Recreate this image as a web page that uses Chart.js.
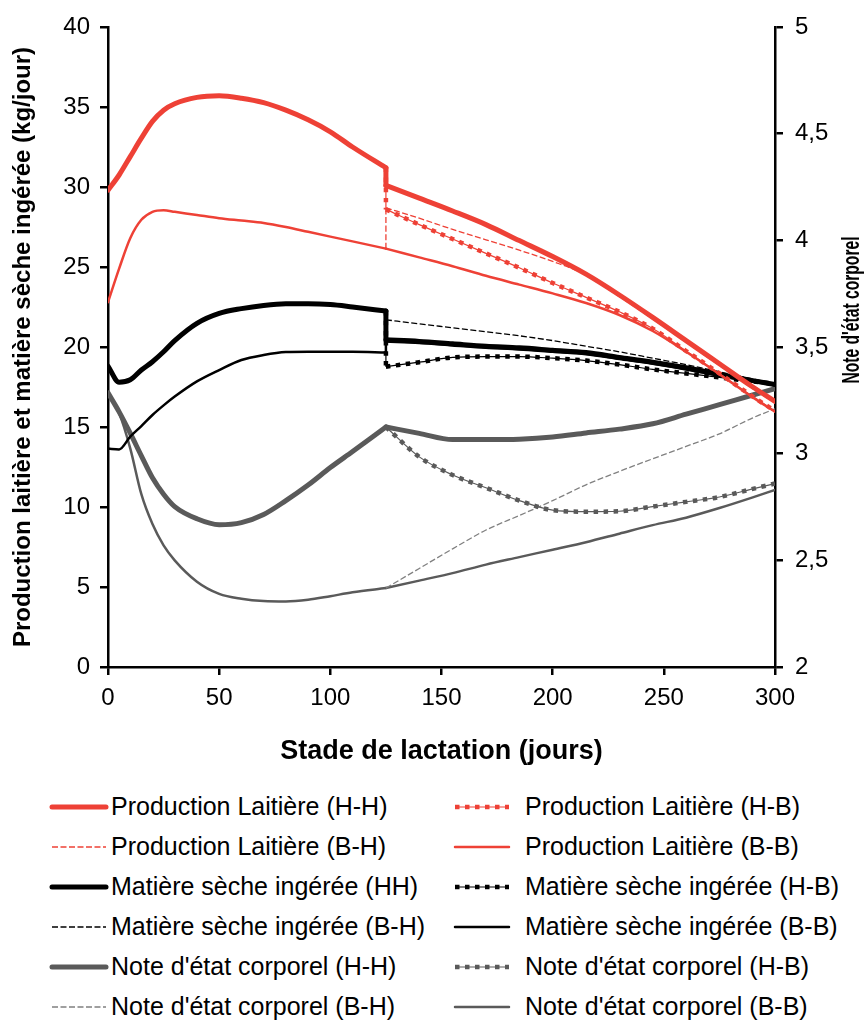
<!DOCTYPE html>
<html lang="fr">
<head>
<meta charset="utf-8">
<script src="https://cdn.jsdelivr.net/npm/chart.js@4.4.1/dist/chart.umd.min.js"></script>
<style>
  html, body { margin: 0; padding: 0; background: #fff; }
  body { width: 868px; height: 1020px; position: relative; overflow: hidden;
         font-family: "Liberation Sans", Arial, sans-serif; }
  #chart { position: absolute; left: 0; top: 0; }
  .sw { position: absolute; }
  .lt { position: absolute; font-size: 25px; line-height: 30px; color: #000; white-space: nowrap; }
</style>
</head>
<body>
<canvas id="chart" width="868" height="780"></canvas>
<div id="legend"></div>
<script>
// ---------------------------------------------------------------
// DATA
// ---------------------------------------------------------------

// days of lactation, before and after the switch at day 125
const daysP1 = [0, 5, 10, 15, 20, 25, 30, 40, 50, 60, 70, 80, 90, 100, 110, 125];
const daysP2 = [125, 140, 155, 170, 185, 200, 215, 230, 245, 260, 275, 290, 300];
const switchDay = 125;

// Production laitière (kg/jour)
const laitHH1 = [29.8, 30.75, 31.9, 33.05, 34.1, 34.8, 35.2, 35.6, 35.7, 35.55, 35.27, 34.8, 34.2, 33.45, 32.5, 31.2];
const laitBB1 = [22.8, 24.9, 26.8, 27.95, 28.45, 28.55, 28.45, 28.25, 28.05, 27.9, 27.75, 27.5, 27.2, 26.9, 26.6, 26.15];
const laitHH2 = [30.1, 29.3, 28.5, 27.65, 26.65, 25.65, 24.55, 23.25, 21.85, 20.4, 18.95, 17.5, 16.6];
const laitHB2 = [28.6, 27.65, 26.75, 25.85, 24.95, 24.0, 23.1, 22.2, 21.15, 19.75, 18.35, 16.9, 16.0];
const laitBH2 = [28.7, 28.05, 27.35, 26.7, 26.05, 25.35, 24.5, 23.15, 21.75, 20.3, 18.85, 17.4, 16.5];
const laitBB2 = [26.15, 25.6, 25.05, 24.45, 23.9, 23.35, 22.75, 22.0, 21.0, 19.7, 18.3, 16.85, 15.95];

// Matière sèche ingérée (kg/jour)
const msiHH1 = [18.8, 17.8, 17.95, 18.56, 19.08, 19.7, 20.4, 21.48, 22.1, 22.4, 22.6, 22.7, 22.7, 22.65, 22.5, 22.25];
const msiBB1 = [13.65, 13.6, 14.4, 15.06, 15.75, 16.35, 16.9, 17.85, 18.56, 19.19, 19.5, 19.68, 19.7, 19.7, 19.7, 19.65];
const msiHH2 = [20.45, 20.35, 20.2, 20.05, 19.95, 19.8, 19.65, 19.35, 19.05, 18.7, 18.3, 17.9, 17.65];
const msiHB2 = [18.77, 19.05, 19.35, 19.4, 19.4, 19.3, 19.15, 18.9, 18.6, 18.35, 18.1, 17.85, 17.7];
const msiBH2 = [21.7, 21.45, 21.2, 20.95, 20.7, 20.4, 20.05, 19.7, 19.3, 18.9, 18.45, 18.0, 17.7];
const msiBB2 = [20.35, 20.25, 20.1, 19.95, 19.85, 19.7, 19.55, 19.25, 18.95, 18.6, 18.2, 17.85, 17.6];

// Note d'état corporel (right axis)
const necHH1 = [3.285, 3.196, 3.096, 2.99, 2.887, 2.81, 2.752, 2.695, 2.667, 2.677, 2.715, 2.78, 2.853, 2.935, 3.01, 3.125];
const necBB1 = [3.285, 3.19, 3.025, 2.81, 2.67, 2.57, 2.5, 2.4, 2.343, 2.32, 2.309, 2.307, 2.315, 2.332, 2.35, 2.37];
const necHH2 = [3.125, 3.095, 3.066, 3.066, 3.068, 3.078, 3.097, 3.115, 3.14, 3.185, 3.23, 3.275, 3.305];
const necHB2 = [3.125, 2.985, 2.9, 2.84, 2.78, 2.735, 2.728, 2.73, 2.752, 2.774, 2.797, 2.835, 2.86];
const necBH2 = [2.37, 2.462, 2.554, 2.642, 2.71, 2.78, 2.854, 2.917, 2.976, 3.034, 3.093, 3.168, 3.21];
const necBB2 = [2.37, 2.405, 2.44, 2.48, 2.515, 2.55, 2.585, 2.625, 2.665, 2.7, 2.745, 2.795, 2.83];

// axes
const xTicks = { min: 0, max: 300, step: 50 };
const yLeftTicks = { min: 0, max: 40, step: 5 };
const yRightTicks = { min: 2, max: 5, step: 0.5 };
const xTitle = "Stade de lactation (jours)";
const yLeftTitle = "Production laitière et matière sèche ingérée (kg/jour)";
const yRightTitle = "Note d'état corporel";


// ---------------------------------------------------------------
// STYLES
// ---------------------------------------------------------------

const RED = "#ee4136";
const BLACK = "#000000";
const GREY = "#5a5a5a";
const GREY_LIGHT = "#808080";

const STYLES = {
    thick:  { width: 5,   dash: [],        cap: "round" },
    dotted: { width: 4.5, dash: [4.5, 5.5], cap: "butt", core: 1.2 },
    dashed: { width: 1.3, dash: [6, 2.5],  cap: "butt" },
    solid:  { width: 2.5, dash: [],        cap: "round" }
};


// ---------------------------------------------------------------
// BUILD DATASETS
// ---------------------------------------------------------------

const datasets = [];
const legendItems = [];

function pts(xs, ys)
{
    return xs.map((x, i) => ({ x: x, y: ys[i] }));
}

function addLine(data, color, style, axis)
{
    const s = STYLES[style];
    if (s.core)
    {
        datasets.push({
            data: data, yAxisID: axis, borderColor: color, borderWidth: s.core,
            pointRadius: 0, cubicInterpolationMode: "monotone", fill: false
        });
    }
    datasets.push({
        data: data, yAxisID: axis, borderColor: color, borderWidth: s.width,
        borderDash: s.dash, borderCapStyle: s.cap, borderJoinStyle: "round",
        pointRadius: 0, cubicInterpolationMode: "monotone", fill: false
    });
}

// p1: values before day 125 (or null), from: value just before the switch, p2: values after
function addSeries(label, color, style, axis, p1, from, p2)
{
    if (p1) addLine(pts(daysP1, p1), color, style, axis);
    if (from !== p2[0])
        addLine([{ x: switchDay, y: from }, { x: switchDay, y: p2[0] }], color, style, axis);
    addLine(pts(daysP2, p2), color, style, axis);
    legendItems.push({ label: label, color: color, style: style });
}

const last = a => a[a.length - 1];

// legend order is row by row (two columns)
addSeries("Production Laitière (H-H)", RED, "thick", "y", laitHH1, last(laitHH1), laitHH2);
addSeries("Production Laitière (H-B)", RED, "dotted", "y", null, last(laitHH1), laitHB2);
addSeries("Production Laitière (B-H)", RED, "dashed", "y", null, last(laitBB1), laitBH2);
addSeries("Production Laitière (B-B)", RED, "solid", "y", laitBB1, last(laitBB1), laitBB2);

addSeries("Matière sèche ingérée (HH)", BLACK, "thick", "y", msiHH1, last(msiHH1), msiHH2);
addSeries("Matière sèche ingérée (H-B)", BLACK, "dotted", "y", null, last(msiHH1), msiHB2);
addSeries("Matière sèche ingérée (B-H)", BLACK, "dashed", "y", null, last(msiBB1), msiBH2);
addSeries("Matière sèche ingérée (B-B)", BLACK, "solid", "y", msiBB1, last(msiBB1), msiBB2);

addSeries("Note d'état corporel (H-H)", GREY, "thick", "y2", necHH1, last(necHH1), necHH2);
addSeries("Note d'état corporel (H-B)", GREY, "dotted", "y2", null, last(necHH1), necHB2);
addSeries("Note d'état corporel (B-H)", GREY_LIGHT, "dashed", "y2", null, last(necBB1), necBH2);
addSeries("Note d'état corporel (B-B)", GREY, "solid", "y2", necBB1, last(necBB1), necBB2);


// ---------------------------------------------------------------
// CHART
// ---------------------------------------------------------------

const FONT = "'Liberation Sans', Arial, sans-serif";

function axisStyle()
{
    return {
        border: { display: true, color: BLACK, width: 2.5 },
        grid: { display: true, drawOnChartArea: false, drawTicks: true,
                tickLength: 8, color: BLACK, lineWidth: 2.5 }
    };
}

// Chart.js turns a right-hand title top-to-bottom; the figure reads bottom-to-top
const rightTitlePlugin = {
    id: "rightTitle",
    afterDraw(chart)
    {
        const ctx = chart.ctx;
        ctx.save();
        ctx.translate(853, 310);
        ctx.rotate(-Math.PI / 2);
        ctx.scale(0.68, 1);
        ctx.font = "bold 23px " + FONT;
        ctx.fillStyle = BLACK;
        ctx.textAlign = "center";
        ctx.textBaseline = "middle";
        ctx.fillText(yRightTitle, 0, 0);
        ctx.restore();
    }
};

const chart = new Chart(document.getElementById("chart"), {
    type: "line",
    data: { datasets: datasets },
    options: {
        responsive: false,
        animation: false,
        devicePixelRatio: 1,
        layout: { padding: { top: 27, left: 0, right: 0, bottom: 0 } },
        plugins: { legend: { display: false }, tooltip: { enabled: false } },
        scales: {
            x: Object.assign(axisStyle(), {
                type: "linear", min: xTicks.min, max: xTicks.max,
                ticks: { stepSize: xTicks.step, color: BLACK, padding: 9, maxRotation: 0,
                         font: { family: FONT, size: 24 } },
                title: { display: true, text: xTitle, color: BLACK,
                         font: { family: FONT, size: 27, weight: "bold" },
                         padding: { top: 0, bottom: 12 } },
                afterFit: s => { s.height = 113; }
            }),
            y: Object.assign(axisStyle(), {
                type: "linear", position: "left", min: yLeftTicks.min, max: yLeftTicks.max,
                ticks: { stepSize: yLeftTicks.step, color: BLACK, padding: 10,
                         font: { family: FONT, size: 24 } },
                title: { display: true, text: yLeftTitle, color: BLACK,
                         font: { family: FONT, size: 24, weight: "bold" },
                         padding: { top: 9, bottom: 0 } },
                afterFit: s => { s.width = 108; }
            }),
            y2: Object.assign(axisStyle(), {
                type: "linear", position: "right", min: yRightTicks.min, max: yRightTicks.max,
                ticks: { stepSize: yRightTicks.step, color: BLACK, padding: 12,
                         font: { family: FONT, size: 24 },
                         callback: v => String(v).replace(".", ",") },
                afterFit: s => { s.width = 93; }
            })
        }
    },
    plugins: [rightTitlePlugin]
});


// ---------------------------------------------------------------
// LEGEND (two columns, below the chart)
// ---------------------------------------------------------------

const legendCols = [ { sw: 48, text: 111 }, { sw: 451, text: 525 } ];
const legendTop = 807;
const legendStep = 40;

function drawSwatch(canvas, item)
{
    const s = STYLES[item.style];
    const ctx = canvas.getContext("2d");
    const y = canvas.height / 2;
    ctx.strokeStyle = item.color;
    if (s.core)
    {
        ctx.lineWidth = s.core;
        ctx.beginPath(); ctx.moveTo(4, y); ctx.lineTo(canvas.width - 4, y); ctx.stroke();
    }
    ctx.lineWidth = s.width;
    ctx.lineCap = s.cap;
    ctx.setLineDash(s.dash);
    ctx.beginPath(); ctx.moveTo(4, y); ctx.lineTo(canvas.width - 4, y); ctx.stroke();
}

const legendBox = document.getElementById("legend");
legendItems.forEach((item, i) =>
{
    const col = legendCols[i % 2];
    const cy = legendTop + Math.floor(i / 2) * legendStep;

    const c = document.createElement("canvas");
    c.className = "sw";
    c.width = 62; c.height = 14;
    c.style.left = col.sw + "px";
    c.style.top = (cy - 7) + "px";
    drawSwatch(c, item);
    legendBox.appendChild(c);

    const t = document.createElement("div");
    t.className = "lt";
    t.textContent = item.label;
    t.style.left = col.text + "px";
    t.style.top = (cy - 16) + "px";
    legendBox.appendChild(t);
});
</script>
</body>
</html>
